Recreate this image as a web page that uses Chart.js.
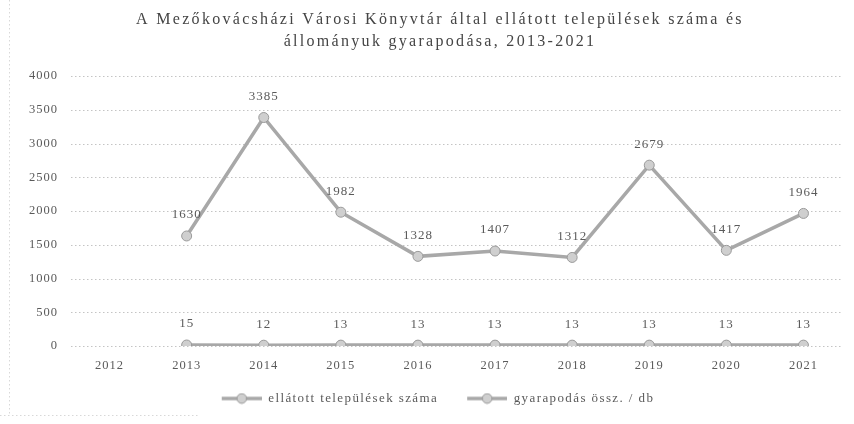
<!DOCTYPE html>
<html>
<head>
<meta charset="utf-8">
<script src="https://cdn.jsdelivr.net/npm/chart.js@4"></script>
<style>
html,body{margin:0;padding:0;background:#fff;}
#wrap{width:854px;height:424px;}
</style>
</head>
<body>
<div id="wrap"><canvas id="c" width="854" height="424"></canvas></div>
<script>
const categories = ['2012','2013','2014','2015','2016','2017','2018','2019','2020','2021'];
const ellatott = [null,15,12,13,13,13,13,13,13,13];
const gyarapodas = [null,1630,3385,1982,1328,1407,1312,2679,1417,1964];
const yTicks = [0,500,1000,1500,2000,2500,3000,3500,4000];
const seriesNames = ['ellátott települések száma','gyarapodás össz. / db'];
const titleLines = ['A Mezőkovácsházi Városi Könyvtár által ellátott települések száma és','állományuk gyarapodása, 2013-2021'];

const FONT = '"Liberation Serif", "DejaVu Serif", serif';
const LINE = '#a8a8a8';
const PT_FILL = '#cfcfcf';
const PT_EDGE = '#9a9a9a';
const TXT = '#5a5a5a';

// legend icon: transparent margin on the left, then line with marker
function legendIcon(){
  const cv = document.createElement('canvas');
  cv.width = 54; cv.height = 12;
  const g = cv.getContext('2d');
  g.strokeStyle = LINE; g.lineWidth = 3.5;
  g.beginPath(); g.moveTo(14,6); g.lineTo(54,6); g.stroke();
  g.fillStyle = PT_FILL; g.strokeStyle = PT_EDGE; g.lineWidth = 1;
  g.beginPath(); g.arc(34,6,4.8,0,Math.PI*2); g.fill(); g.stroke();
  return cv;
}
const icon = legendIcon();

function wrapMethod(obj, name, ls, dx){
  if(!obj) return;
  const key = '__w_' + name;
  if(obj[key]) return;
  const orig = obj[name];
  obj[name] = function(){
    const c = this.ctx;
    const prev = c.letterSpacing;
    c.save();
    if(dx) c.translate(dx, 0);
    c.letterSpacing = ls;
    const r = orig.apply(this, arguments);
    c.restore();
    c.letterSpacing = prev;
    return r;
  };
  obj[key] = true;
}

const spacingPlugin = {
  id:'spacing',
  beforeLayout(chart){
    wrapMethod(chart.titleBlock, 'draw', '2.3px', 9);
    wrapMethod(chart.legend, 'fit', '1.4px');
    wrapMethod(chart.legend, 'draw', '1.4px');
    wrapMethod(chart.scales.x, 'draw', '1px');
    wrapMethod(chart.scales.y, 'draw', '1px');
  }
};

const labelPlugin = {
  id:'valLabels',
  afterDatasetsDraw(chart){
    const ctx = chart.ctx;
    ctx.save();
    ctx.letterSpacing = '1px';
    ctx.font = '13px ' + FONT;
    ctx.fillStyle = TXT;
    ctx.textAlign = 'center';
    ctx.textBaseline = 'middle';
    chart.data.datasets.forEach((ds,i)=>{
      const meta = chart.getDatasetMeta(i);
      meta.data.forEach((pt,j)=>{
        const v = ds.data[j];
        if(v===null||v===undefined) return;
        ctx.fillText(String(v), pt.x, pt.y - 21);
      });
    });
    ctx.restore();
  }
};

const yGrid = {
  id:'yGrid',
  beforeDatasetsDraw(chart){
    const {ctx, chartArea, scales:{y}} = chart;
    ctx.save();
    ctx.strokeStyle = '#c4c4c4';
    ctx.lineWidth = 1;
    ctx.setLineDash([1.5,2.5]);
    yTicks.forEach(t=>{
      const py = Math.round(y.getPixelForValue(t))+0.5;
      ctx.beginPath(); ctx.moveTo(chartArea.left, py); ctx.lineTo(chartArea.right, py); ctx.stroke();
    });
    ctx.strokeStyle = '#d8d8d8';
    ctx.beginPath(); ctx.moveTo(9.5, 0); ctx.lineTo(9.5, 416); ctx.stroke();
    ctx.beginPath(); ctx.moveTo(0, 415.5); ctx.lineTo(200, 415.5); ctx.stroke();
    ctx.restore();
  }
};

new Chart(document.getElementById('c'),{
  type:'line',
  data:{
    labels:categories,
    datasets:[
      {label:seriesNames[0], data:ellatott, borderColor:LINE, backgroundColor:PT_FILL, borderWidth:3.5,
       pointRadius:5, pointBorderColor:PT_EDGE, pointBorderWidth:1, pointBackgroundColor:PT_FILL, tension:0},
      {label:seriesNames[1], data:gyarapodas, borderColor:LINE, backgroundColor:PT_FILL, borderWidth:3.5,
       pointRadius:5, pointBorderColor:PT_EDGE, pointBorderWidth:1, pointBackgroundColor:PT_FILL, tension:0}
    ]
  },
  options:{
    responsive:false,
    animation:false,
    layout:{padding:{left:20,right:12,top:0,bottom:9}},
    plugins:{
      title:{display:true, text:titleLines, color:'#454545', font:{family:FONT,size:16,weight:'normal',lineHeight:1.375}, padding:{top:9,bottom:23}},
      legend:{position:'bottom', labels:{usePointStyle:true, pointStyleWidth:54, generateLabels(chart){
        return chart.data.datasets.map((d,i)=>({text:d.label, pointStyle:icon, fontColor:TXT, strokeStyle:LINE, fillStyle:PT_FILL, lineWidth:0, datasetIndex:i, hidden:false}));
      }, color:TXT, font:{family:FONT,size:13}, padding:15, boxHeight:12}},
      tooltip:{enabled:false}
    },
    scales:{
      x:{offset:true, grid:{display:false}, border:{display:false}, ticks:{color:TXT, font:{family:FONT,size:12.5}, padding:4}},
      y:{min:0,max:4000, afterBuildTicks(ax){ax.ticks = yTicks.map(v=>({value:v}));}, grid:{display:false, drawTicks:false}, border:{display:false},
         ticks:{color:TXT, font:{family:FONT,size:12.5}, padding:13, callback:(v)=>String(v)}}
    }
  },
  plugins:[spacingPlugin,yGrid,labelPlugin]
});
</script>
</body>
</html>
